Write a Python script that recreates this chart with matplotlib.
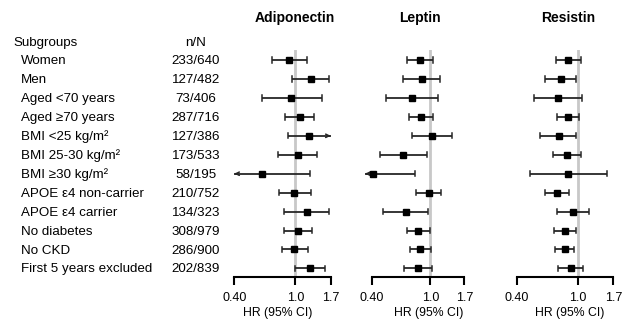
import matplotlib
matplotlib.use("Agg")
import matplotlib.pyplot as plt
import numpy as np

plt.rcParams['font.family'] = ['Liberation Sans', 'DejaVu Sans']

subgroups = ["Women", "Men", "Aged <70 years", "Aged \u226570 years", "BMI <25 kg/m\u00b2",
             "BMI 25-30 kg/m\u00b2", "BMI \u226530 kg/m\u00b2", "APOE \u03b54 non-carrier",
             "APOE \u03b54 carrier", "No diabetes", "No CKD", "First 5 years excluded"]
nN = ["233/640", "127/482", "73/406", "287/716", "127/386", "173/533", "58/195",
      "210/752", "134/323", "308/979", "286/900", "202/839"]

adipo_hr = [0.914, 1.257, 0.937, 1.067, 1.232, 1.035, 0.608, 0.985, 1.184, 1.046, 0.985, 1.245]
adipo_lo = [0.709, 0.947, 0.602, 0.861, 0.896, 0.768, 0.35, 0.780, 0.849, 0.849, 0.820, 1.000]
adipo_hi = [1.184, 1.669, 1.481, 1.321, 2.00, 1.389, 1.245, 1.257, 1.653, 1.289, 1.208, 1.572]

leptin_hr = [0.855, 0.873, 0.750, 0.864, 1.021, 0.651, 0.41, 0.974, 0.682, 0.820, 0.855, 0.820]
leptin_lo = [0.690, 0.651, 0.501, 0.715, 0.750, 0.454, 0.30, 0.794, 0.478, 0.690, 0.723, 0.658]
leptin_hi = [1.043, 1.158, 1.134, 1.043, 1.405, 0.949, 0.782, 1.182, 0.964, 0.995, 1.005, 1.026]

resist_hr = [0.869, 0.771, 0.741, 0.861, 0.752, 0.848, 0.869, 0.730, 0.932, 0.823, 0.823, 0.900]
resist_lo = [0.726, 0.610, 0.519, 0.730, 0.568, 0.687, 0.489, 0.610, 0.733, 0.701, 0.715, 0.748]
resist_hi = [1.046, 0.975, 1.062, 1.015, 0.975, 1.046, 1.537, 0.882, 1.179, 0.966, 0.946, 1.083]

panels = ["Adiponectin", "Leptin", "Resistin"]
xticks = [0.40, 1.0, 1.7]
xticklabels = ["0.40", "1.0", "1.7"]

W, H = 631, 330
fig = plt.figure(figsize=(W / 100, H / 100), dpi=100)

def px(x, y):
    return x / W, 1 - y / H

# axes pixel extents
ax_x = [(234.3, 330.7), (371.7, 464.3), (516.7, 613.3)]
title_x = [295, 420, 568]
xlabel_x = [278, 429, 570]
ax_top, ax_bot = 50, 277
row0, rowstep = 60, 18.95

data = [(adipo_hr, adipo_lo, adipo_hi), (leptin_hr, leptin_lo, leptin_hi),
        (resist_hr, resist_lo, resist_hi)]

xmin, xmax = 0.40, 1.7
n = len(subgroups)
lc = '#262626'
cap = 0.14
for k in range(3):
    x0, x1 = ax_x[k]
    ax = fig.add_axes([x0 / W, 1 - ax_bot / H, (x1 - x0) / W, (ax_bot - ax_top) / H])
    ax.set_xscale('log')
    ax.set_xlim(xmin, xmax)
    ax.set_ylim((ax_bot - row0) / rowstep, (ax_top - row0) / rowstep)
    ax.axvline(1.0, color='#c8c8c8', lw=2, zorder=0)
    hr, lo, hi = data[k]
    for i in range(n):
        c, l, h = hr[i], lo[i], hi[i]
        left_arrow = l < xmin
        right_arrow = h > xmax
        lx = xmin if left_arrow else l
        if left_arrow and lx >= c * 0.97:
            lx = c * 0.88
        rx = xmax if right_arrow else h
        ax.plot([lx, rx], [i, i], color=lc, lw=1.3, clip_on=False, zorder=2,
                solid_capstyle='butt')
        if not left_arrow:
            ax.plot([l, l], [i - cap, i + cap], color=lc, lw=1.1, clip_on=False, zorder=2)
        else:
            ax.annotate("", xy=(lx, i), xytext=(lx * 1.04, i),
                        arrowprops=dict(arrowstyle='->', color=lc, lw=1.1,
                                        mutation_scale=6, shrinkA=0, shrinkB=0),
                        annotation_clip=False)
        if not right_arrow:
            ax.plot([h, h], [i - cap, i + cap], color=lc, lw=1.1, clip_on=False, zorder=2)
        else:
            ax.annotate("", xy=(rx, i), xytext=(rx / 1.04, i),
                        arrowprops=dict(arrowstyle='->', color=lc, lw=1.1,
                                        mutation_scale=6, shrinkA=0, shrinkB=0),
                        annotation_clip=False)
        ax.plot([c], [i], marker='s', ms=4.6, color='black', clip_on=False, zorder=3)
    for s in ['top', 'right', 'left']:
        ax.spines[s].set_visible(False)
    ax.spines['bottom'].set_linewidth(1.5)
    ax.set_yticks([])
    ax.set_xticks(xticks)
    ax.set_xticklabels(xticklabels, fontsize=9)
    ax.xaxis.set_minor_locator(matplotlib.ticker.NullLocator())
    ax.tick_params(axis='x', direction='out', length=6, width=1.5, pad=5)
    fig.text(*px(title_x[k], 18), panels[k], ha='center', va='center',
             fontsize=10, fontweight='bold')
    fig.text(*px(xlabel_x[k], 313), "HR (95% CI)", ha='center', va='center', fontsize=8.8)

fs = 9.6
fig.text(*px(13, 43), "Subgroups", ha='left', va='center', fontsize=fs)
fig.text(*px(196, 43), "n/N", ha='center', va='center', fontsize=fs)
for i in range(n):
    y = 61 + rowstep * i
    fig.text(*px(21, y), subgroups[i], ha='left', va='center', fontsize=fs)
    fig.text(*px(196, y), nN[i], ha='center', va='center', fontsize=fs)

fig.savefig("out.png", dpi=100, facecolor='white')
